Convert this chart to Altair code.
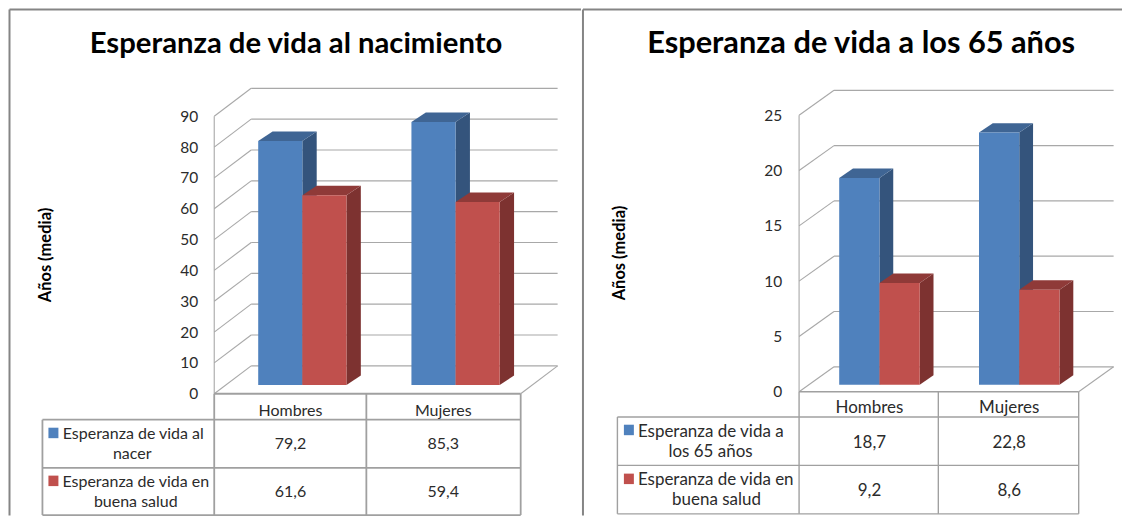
import altair as alt
import pandas as pd

CATEGORIES = ["Hombres", "Mujeres"]
TITLE_L = "Esperanza de vida al nacimiento"
TITLE_R = "Esperanza de vida a los 65 años"
BIRTH = [79.2, 85.3]
HEALTH_L = [61.6, 59.4]
AT65 = [18.7, 22.8]
HEALTH_R = [9.2, 8.6]
TICKS_L = [0, 10, 20, 30, 40, 50, 60, 70, 80, 90]
TICKS_R = [0, 5, 10, 15, 20, 25]
LEGEND_L = [["Esperanza de vida al", "nacer"], ["Esperanza de vida en", "buena salud"]]
LEGEND_R = [["Esperanza de vida a", "los 65 años"], ["Esperanza de vida en", "buena salud"]]

BLUE = ("#4F81BD", "#34547C", "#3F6594")
RED = ("#C0504D", "#7D3230", "#8F3A38")
FONT = "Lato"
GRID = "#A8A8A8"
TABLE = "#A0A0A0"
TEXT = "#2B2B2B"
PANEL_H = 508


def rule_layer(rows):
    return alt.Chart(pd.DataFrame(rows, columns=["x", "x2", "y", "y2", "c", "w"])).mark_rule().encode(
        x=alt.X("x:Q", scale=None, axis=None),
        x2="x2:Q",
        y=alt.Y("y:Q", scale=None, axis=None),
        y2="y2:Q",
        color=alt.Color("c:N", scale=None),
        strokeWidth=alt.StrokeWidth("w:Q", scale=None),
    )


def text_layer(rows, **mark):
    return alt.Chart(pd.DataFrame(rows, columns=["x", "y", "t"])).mark_text(
        font=FONT, baseline="middle", align="center", **mark
    ).encode(
        x=alt.X("x:Q", scale=None, axis=None),
        y=alt.Y("y:Q", scale=None, axis=None),
        text="t:N",
    )


def panel(p):
    ox, oy = p["ox"], 8
    X = lambda v: v - ox
    Y = lambda v: v - oy
    xscale = alt.Scale(domain=[0, 2], range=[X(p["x0"]), X(p["x1"])], nice=False, zero=False)
    top = p["ticks"][-1]
    yscale = alt.Scale(domain=[0, top], range=[Y(p["y0"]), Y(p["ytop"])], nice=False, zero=False)
    ppu = (p["y0"] - p["ytop"]) / top
    cat_w = (p["x1"] - p["x0"]) / 2
    lift = (p["y0"] - p["base"]) / ppu
    ddx = p["bar_dx"] / cat_w
    ddy = p["bar_dy"] / ppu
    bw = 0.288

    # walls and floor
    dx, dy = p["dx"], p["dy"]
    rows = []
    for t in p["ticks"]:
        fy = p["y0"] - t * ppu
        rows.append((X(p["x0"]), X(p["x0"] + dx), Y(fy), Y(fy - dy), GRID, 1.1))
        rows.append((X(p["x0"] + dx), X(p["x1"] + dx), Y(fy - dy), Y(fy - dy), GRID, 1.2))
    rows.append((X(p["x0"]), X(p["x0"]), Y(p["y0"]), Y(p["ytop"]), GRID, 1.1))
    rows.append((X(p["x1"]), X(p["x1"] + dx), Y(p["y0"]), Y(p["y0"] - dy), GRID, 1.1))
    layers = [rule_layer(rows)]

    # 3D bars
    axis_done = False
    for s, (vals, col) in enumerate(zip(p["series"], (BLUE, RED))):
        front, side, roof = [], [], []
        for i, v in enumerate(vals):
            a = i + 0.575 + (s - 1) * bw
            b = a + bw
            front.append(dict(a=a, b=b, y=lift, y2=v + lift))
            side += [dict(k=i, x=b, y=lift, y2=v + lift), dict(k=i, x=b + ddx, y=lift + ddy, y2=v + lift + ddy)]
            t = v + lift
            roof += [
                dict(k=i, x=a, y=t, y2=t),
                dict(k=i, x=a + ddx, y=t, y2=t + ddy),
                dict(k=i, x=b, y=t, y2=t + ddy),
                dict(k=i, x=b + ddx, y=t + ddy, y2=t + ddy),
            ]
        for data, c in ((side, col[1]), (roof, col[2])):
            layers.append(alt.Chart(pd.DataFrame(data)).mark_area(color=c, opacity=1, orient="vertical").encode(
                x=alt.X("x:Q", scale=xscale, axis=None),
                y=alt.Y("y:Q", scale=yscale, axis=None),
                y2="y2:Q",
                detail="k:N",
            ))
        axis = None
        if not axis_done:
            axis = alt.Axis(values=p["ticks"], domain=False, ticks=False, grid=False, title=None,
                            labelFont=FONT, labelFontSize=p["tick_size"], labelColor=TEXT,
                            labelPadding=0, offset=-X(p["tick_x"]))
            axis_done = True
        layers.append(alt.Chart(pd.DataFrame(front)).mark_rect(color=col[0]).encode(
            x=alt.X("a:Q", scale=xscale, axis=None),
            x2="b:Q",
            y=alt.Y("y:Q", scale=yscale, axis=axis),
            y2="y2:Q",
        ))

    # data table
    t0, t1, t2, t3 = p["rows"]
    L, C0, C1, R = p["cols"]
    rows = []
    for yy in (t1, t2, t3):
        rows.append((X(L), X(R), Y(yy), Y(yy), TABLE, p["table_w"]))
    rows.append((X(p["x0"]), X(R), Y(t0), Y(t0), TABLE, p["table_w"]))
    rows.append((X(L), X(L), Y(t1), Y(t3), TABLE, p["table_w"]))
    for xx in (C0, C1, R):
        rows.append((X(xx), X(xx), Y(t0), Y(t3), TABLE, p["table_w"]))
    layers.append(rule_layer(rows))

    # legend keys
    key_rows = []
    for yy, c in zip(p["key_y"], (BLUE[0], RED[0])):
        key_rows.append(dict(x=X(p["key_x"]), x2=X(p["key_x"] + 10), y=Y(yy), y2=Y(yy + 10.5), c=c))
    layers.append(alt.Chart(pd.DataFrame(key_rows)).mark_rect().encode(
        x=alt.X("x:Q", scale=None, axis=None), x2="x2:Q",
        y=alt.Y("y:Q", scale=None, axis=None), y2="y2:Q",
        color=alt.Color("c:N", scale=None),
    ))

    # table texts
    cell = []
    for cx, name in zip(p["cell_x"], CATEGORIES):
        cell.append((X(cx), Y(p["head_y"] + 1), name))
    for yy, vals in zip(p["val_y"], p["series"]):
        for cx, v in zip(p["cell_x"], vals):
            cell.append((X(cx), Y(yy + 1), f"{v:.1f}".replace(".", ",")))
    for lines, pos in zip(p["legend"], p["legend_pos"]):
        for line, (cx, yy) in zip(lines, pos):
            cell.append((X(cx), Y(yy + 1), line))
    layers.append(text_layer(cell, fontSize=p["cell_size"], color=TEXT))

    # titles
    layers.append(text_layer([(X(p["title_x"]), Y(43.5), p["title"])], fontSize=p["title_size"], fontWeight="bold", color="#000000"))
    layers.append(text_layer([(X(p["ylab_x"]), Y(p["ylab_y"]), "Años (media)")], fontSize=16.5, fontWeight="bold", color="#000000", angle=270))

    # frame
    frame = [(X(p["frame_x"]), X(p["frame_x"]), Y(9), PANEL_H, "#858585", 2)]
    frame.append((X(p["frame_x"]), p["w"], Y(9), Y(9), "#858585", 2))
    layers.append(rule_layer(frame))

    return alt.layer(*layers).resolve_scale(x="independent", y="independent").properties(width=p["w"], height=PANEL_H)


left = panel(dict(
    ox=8, w=574, x0=214.6, x1=521.6, y0=394, ytop=116, base=385.3, dx=37, dy=28,
    bar_dx=14.4, bar_dy=9.5, ticks=TICKS_L, series=[BIRTH, HEALTH_L], tick_x=198, tick_size=15.5,
    rows=(394, 420, 468.3, 515.5), cols=(42.5, 214.6, 367, 521.6), table_w=1.8,
    key_x=48.5, key_y=(428, 476), cell_x=(291, 444), head_y=410.7, val_y=(443, 491.7),
    legend=LEGEND_L, legend_pos=[[(133.5, 433), (132.4, 453)], [(136, 481), (136, 501.7)]],
    cell_size=16, title=TITLE_L, title_x=296.5, title_size=29.3, ylab_x=46, ylab_y=255, frame_x=9.5,
))
right = panel(dict(
    ox=582, w=541, x0=799.5, x1=1079.6, y0=392, ytop=115, base=385, dx=35, dy=25,
    bar_dx=13.8, bar_dy=9.5, ticks=TICKS_R, series=[AT65, HEALTH_R], tick_x=782, tick_size=15.5,
    rows=(392, 417.3, 465.7, 514.3), cols=(617.5, 799.5, 939, 1079.6), table_w=1.4,
    key_x=624, key_y=(425, 474), cell_x=(870, 1010), head_y=407, val_y=(442, 490),
    legend=LEGEND_R, legend_pos=[[(711, 431), (710.8, 451)], [(716, 479), (716.8, 499)]],
    cell_size=17, title=TITLE_R, title_x=861.7, title_size=30.8, ylab_x=620, ylab_y=253, frame_x=583,
))

chart = alt.hconcat(left, right, spacing=0).properties(padding=0).configure_view(stroke=None)
chart.save("out.html", embed_options={"renderer": "svg", "actions": False})
